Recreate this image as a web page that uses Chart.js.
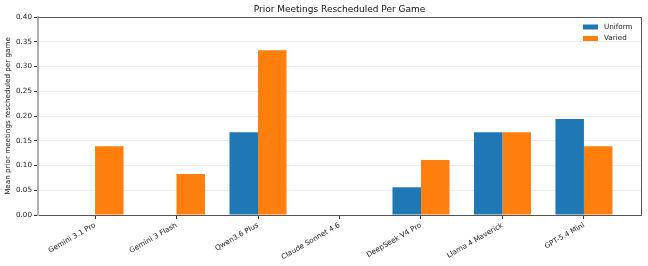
<!DOCTYPE html>
<html>
<head>
<meta charset="utf-8">
<script src="https://cdn.jsdelivr.net/npm/chart.js@4.4.1/dist/chart.umd.min.js"></script>
<style>
  html, body { margin: 0; padding: 0; background: #fff; }
  #wrap { width: 648px; height: 266px; }
</style>
</head>
<body>
<div id="wrap"><canvas id="chart" width="648" height="266"></canvas></div>
<script>
// Données
const models = ['Gemini 3.1 Pro', 'Gemini 3 Flash', 'Qwen3.6 Plus', 'Claude Sonnet 4.6',
                'DeepSeek V4 Pro', 'Llama 4 Maverick', 'GPT-5.4 Mini'];
const uniform = [0, 0, 0.167, 0, 0.056, 0.167, 0.194];
const varied  = [0.139, 0.083, 0.333, 0, 0.111, 0.167, 0.139];
const yTicks  = [0, 0.05, 0.10, 0.15, 0.20, 0.25, 0.30, 0.35, 0.40];

const FONT = 'DejaVu Sans';

// Cadre haut/droite + légende dans la zone du graphique
const framePlugin = {
  id: 'frame',
  afterDraw(chart) {
    const { ctx, chartArea: a } = chart;
    ctx.save();
    ctx.strokeStyle = '#555';
    ctx.lineWidth = 1;
    ctx.beginPath();
    ctx.moveTo(a.left, a.top + 0.5);
    ctx.lineTo(a.right + 0.5, a.top + 0.5);
    ctx.lineTo(a.right + 0.5, a.bottom);
    ctx.stroke();

    // légende
    ctx.font = '7.2px "' + FONT + '"';
    ctx.textBaseline = 'middle';
    ctx.textAlign = 'left';
    chart.data.datasets.forEach((ds, i) => {
      const y = 27 + i * 11.5;
      ctx.fillStyle = ds.backgroundColor;
      ctx.fillRect(583, y - 2.5, 15, 5);
      ctx.fillStyle = '#222';
      ctx.fillText(ds.label, 604, y);
    });
    ctx.restore();
  }
};

const ctx = document.getElementById('chart').getContext('2d');
new Chart(ctx, {
  type: 'bar',
  data: {
    datasets: [
      { label: 'Uniform', data: uniform.map((v, i) => ({ x: i, y: v })), backgroundColor: '#1f77b4', borderWidth: 0 },
      { label: 'Varied',  data: varied.map((v, i) => ({ x: i, y: v })),  backgroundColor: '#ff7f0e', borderWidth: 0 }
    ]
  },
  options: {
    responsive: false,
    animation: false,
    devicePixelRatio: 1,
    categoryPercentage: 0.7,
    barPercentage: 1.0,
    layout: { padding: { left: 0, right: 7, top: 0, bottom: 0 } },
    plugins: {
      legend: { display: false },
      tooltip: { enabled: false },
      title: {
        display: true,
        fullSize: false,
        text: 'Prior Meetings Rescheduled Per Game',
        color: '#111',
        font: { family: FONT, size: 9, weight: 'normal' },
        padding: { top: 4.2, bottom: 2 }
      }
    },
    scales: {
      x: {
        type: 'linear',
        min: -0.7,
        max: 6.7,
        offset: false,
        grid: { offset: false, drawOnChartArea: false, tickLength: 4, tickColor: '#333' },
        border: { color: '#555', width: 1 },
        ticks: {
          stepSize: 1,
          includeBounds: false,
          autoSkip: false,
          maxRotation: 30,
          minRotation: 30,
          padding: 2,
          color: '#222',
          font: { family: FONT, size: 7.2 },
          callback: v => (Number.isInteger(v) && models[v] !== undefined) ? models[v] : ''
        },
        afterFit(scale) { scale.height = 51; }
      },
      y: {
        min: 0,
        max: 0.4,
        grid: { color: '#ececec', tickLength: 4, tickColor: '#333' },
        border: { color: '#b0b0b0', width: 2 },
        ticks: {
          stepSize: 0.05,
          padding: 2,
          color: '#222',
          font: { family: FONT, size: 7.2 },
          callback: v => yTicks.some(t => Math.abs(t - v) < 1e-9) ? v.toFixed(2) : ''
        },
        title: {
          display: true,
          text: 'Mean prior meetings rescheduled per game',
          color: '#222',
          font: { family: FONT, size: 7.2 },
          padding: { top: 4, bottom: 0 }
        },
        afterFit(scale) { scale.width = 38; }
      }
    }
  },
  plugins: [framePlugin]
});
</script>
</body>
</html>
